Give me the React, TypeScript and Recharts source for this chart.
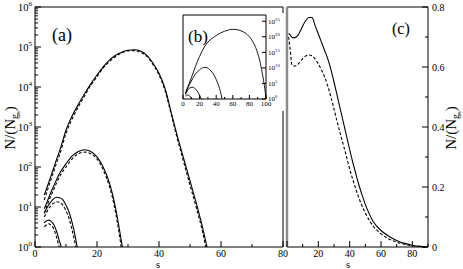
import React from "react";
import { LineChart, Line, XAxis, YAxis } from "recharts";

const FONT = '"Liberation Serif", "Times New Roman", "DejaVu Serif", serif';

// panel (a): s and N/(N_gs), four solid/dashed pairs
const aS1 = [3, 4, 5, 6, 7, 8, 10, 12, 14, 16, 18, 20, 22, 24, 26, 28, 30, 32, 34, 36, 38, 40, 42, 44, 46, 48, 50, 52, 54, 55.5];
const aSolid1 = [20, 33, 55, 93, 160, 260, 830, 1900, 3700, 6800, 12000, 20000, 32000, 47000, 62000, 74000, 83000, 85000, 79000, 63000, 40000, 22000, 8900, 2200, 560, 160, 45, 12.6, 3.2, 1];
const aS1d = [3, 4, 5, 6, 7, 8, 10, 12, 14, 16, 18, 20, 22, 24, 26, 28, 30, 32, 34, 36, 38, 40, 42, 44, 46, 48, 50, 52, 54, 55.1];
const aDashed1 = [15, 26, 45, 76, 130, 210, 690, 1600, 3200, 6000, 11000, 18000, 30000, 43000, 58000, 71000, 80000, 81000, 74000, 59000, 37000, 20000, 7900, 2000, 480, 130, 35, 10, 2.5, 1];

const aS2 = [3, 4, 5, 6, 8, 10, 12, 14, 16, 18, 20, 22, 24, 25, 26, 27, 28.2];
const aSolid2 = [9, 14, 22, 33, 71, 120, 190, 245, 270, 245, 180, 100, 40, 21, 9.3, 3.5, 1];
const aS2d = [3, 4, 5, 6, 8, 10, 12, 14, 16, 18, 20, 22, 24, 25, 26, 27, 27.8];
const aDashed2 = [7, 11.5, 18, 27, 59, 100, 160, 215, 235, 215, 160, 85, 33, 17, 7.2, 2.6, 1];

const aS3 = [3, 4, 5, 6, 7, 8, 9, 10, 11, 12, 13, 13.6];
const aSolid3 = [7, 10, 13, 16, 17.5, 17, 15, 11, 7.4, 4, 1.8, 1];
const aS3d = [3, 4, 5, 6, 7, 8, 9, 10, 11, 12, 13.2];
const aDashed3 = [5.6, 8, 10.5, 12.5, 13.5, 13, 11, 8.1, 5.1, 2.6, 1];

const aS4 = [3, 3.5, 4, 4.5, 5, 6, 7, 8, 8.5];
const aSolid4 = [4, 4.4, 4.6, 4.7, 4.5, 3.7, 2.4, 1.3, 1];
const aS4d = [3, 4, 4.5, 5, 6, 7, 7.8];
const aDashed4 = [3.2, 3.7, 3.8, 3.6, 2.9, 1.7, 1];

// inset (b)
const bS1 = [3, 6, 10, 15, 20, 25, 30, 35, 40, 45, 50, 55, 60, 65, 70, 75, 80, 85, 90, 94, 97, 99, 100];
const b1 = [1e2, 1e4, 6e6, 3e10, 5e13, 2.5e16, 2e18, 3e19, 2.5e20, 1.6e21, 6e21, 1.6e22, 2.5e22, 2e22, 8e21, 1.6e21, 1e20, 1e18, 5e14, 3e10, 1e6, 300, 1];
const bS2 = [3, 6, 10, 15, 20, 25, 28, 32, 36, 40, 43, 45, 47];
const b2 = [60, 4000, 6e5, 1e8, 2.5e9, 1.3e10, 1.3e10, 3e9, 2e8, 2e6, 1.6e4, 300, 1];
const bS3 = [3, 5, 8, 11, 14, 17, 20, 22];
const b3 = [30, 400, 3000, 6000, 3000, 400, 16, 1];
const bS4 = [3, 5, 7, 9, 11];
const b4 = [10, 20, 16, 5, 1];

// panel (c)
const cS = [1, 2, 4, 6, 8, 10, 12, 14, 16, 18, 20, 22, 24, 26, 28, 30, 32, 34, 36, 38, 40, 42, 44, 46, 48, 50, 55, 60, 65, 70, 75, 80, 85, 90];
const cSolid = [0.712, 0.706, 0.697, 0.7, 0.715, 0.737, 0.755, 0.765, 0.765, 0.737, 0.71, 0.683, 0.655, 0.628, 0.592, 0.55, 0.505, 0.46, 0.415, 0.37, 0.325, 0.282, 0.243, 0.205, 0.172, 0.142, 0.085, 0.055, 0.036, 0.022, 0.012, 0.006, 0.002, 0];
const cSd = [1, 2, 3, 4, 6, 8, 10, 12, 14, 16, 18, 20, 22, 24, 26, 28, 30, 32, 34, 36, 38, 40, 42, 44, 46, 48, 50, 55, 60, 65, 70, 75, 80, 85, 90];
const cDashed = [0.7, 0.66, 0.61, 0.603, 0.605, 0.615, 0.628, 0.637, 0.64, 0.637, 0.626, 0.61, 0.59, 0.567, 0.537, 0.5, 0.46, 0.418, 0.378, 0.34, 0.3, 0.26, 0.225, 0.192, 0.162, 0.136, 0.113, 0.07, 0.044, 0.027, 0.016, 0.009, 0.004, 0.0015, 0];

// ticks
const aXTicks = [0, 10, 20, 30, 40, 50, 60, 70, 80];
const aYMajor = [1, 10, 100, 1000, 10000, 100000, 1000000];
const aYTicks = aYMajor.flatMap((m, i) =>
  i === aYMajor.length - 1 ? [m] : [1, 2, 3, 4, 5, 6, 7, 8, 9].map((k) => k * m)
);
const bXTicks = [0, 10, 20, 30, 40, 50, 60, 70, 80, 90, 100];
const bYTicks = [1, 1e5, 1e10, 1e15, 1e20, 1e25];
const cXTicks = [0, 10, 20, 30, 40, 50, 60, 70, 80, 90];
const cYTicks = [0, 0.1, 0.2, 0.3, 0.4, 0.5, 0.6, 0.7, 0.8];

type Pt = { s: number; v: number };
const zip = (s: number[], v: number[]): Pt[] => s.map((x, i) => ({ s: x, v: v[i] }));

const isPow10 = (v: number) => Math.abs(Math.log10(v) - Math.round(Math.log10(v))) < 1e-6;
const every20 = (v: number) => Math.round(v) % 20 === 0;
const every02 = (v: number) => Math.round(v * 10) % 2 === 0;

function pow10(fs: number) {
  return (v: number) => (
    <>
      <tspan>10</tspan>
      <tspan dy={-fs * 0.45} fontSize={fs * 0.68}>
        {Math.round(Math.log10(v))}
      </tspan>
    </>
  );
}

type Side = "left" | "right" | "top" | "bottom";
type TickOpt = {
  gap: number;
  major: (v: number) => boolean;
  label?: (v: number) => React.ReactNode;
  fs?: number;
  long?: number;
  short?: number;
  color?: string;
};

function makeTick(side: Side, opt: TickOpt) {
  const { gap, major, label, fs = 10, long = 6, short = 3, color = "#000" } = opt;
  return (p: any) => {
    const v = Number(p.payload.value);
    const big = major(v);
    const len = big ? long : short;
    const x = Number(p.x);
    const y = Number(p.y);
    const content = big && label ? label(v) : null;
    const ts = { fontFamily: FONT, fontSize: fs };
    let ln: React.ReactNode = null;
    let tx: React.ReactNode = null;
    if (side === "left") {
      const ax = x + gap;
      ln = <line x1={ax} x2={ax + len} y1={y} y2={y} />;
      if (content !== null) tx = <text x={x} y={y} dy="0.35em" textAnchor="end" style={ts}>{content}</text>;
    } else if (side === "right") {
      const ax = x - gap;
      ln = <line x1={ax} x2={ax - len} y1={y} y2={y} />;
      if (content !== null) tx = <text x={x} y={y} dy="0.35em" textAnchor="start" style={ts}>{content}</text>;
    } else if (side === "bottom") {
      const ay = y - gap;
      ln = <line x1={x} x2={x} y1={ay} y2={ay - len} />;
      if (content !== null) tx = <text x={x} y={y} dy="0.72em" textAnchor="middle" style={ts}>{content}</text>;
    } else {
      const ay = y + gap;
      ln = <line x1={x} x2={x} y1={ay} y2={ay + len} />;
    }
    return (
      <g>
        <g stroke={color} strokeWidth={1}>{ln}</g>
        <g fill="#000" stroke="none">{tx}</g>
      </g>
    );
  };
}

const numLabel = (v: number) => (v === 0 ? "0" : String(v));

const solid = { stroke: "#000", strokeWidth: 1.1, dot: false as const, isAnimationActive: false, type: "monotone" as const };
const dashed = { ...solid, strokeDasharray: "3 2" };
const axLine = { stroke: "#000", strokeWidth: 1 };

function PanelA() {
  return (
    <LineChart width={290} height={269} margin={{ top: 6, right: 6, bottom: 0, left: 0 }}>
      <XAxis dataKey="s" type="number" domain={[0, 80]} ticks={aXTicks} interval={0} height={22}
        tickSize={0} tickMargin={3} tickLine={false} axisLine={axLine}
        tick={makeTick("bottom", { gap: 3, major: every20, label: numLabel })} allowDataOverflow />
      <XAxis xAxisId="t" orientation="top" type="number" domain={[0, 80]} ticks={aXTicks} interval={0} height={1}
        tickSize={0} tickMargin={0} tickLine={false} axisLine={axLine}
        tick={makeTick("top", { gap: 0, major: every20 })} />
      <YAxis type="number" scale="log" domain={[1, 1000000]} ticks={aYTicks} interval={0} width={35}
        tickSize={0} tickMargin={3} tickLine={false} axisLine={axLine}
        tick={makeTick("left", { gap: 3, major: isPow10, label: pow10(10.5), fs: 10.5 })} allowDataOverflow />
      <YAxis yAxisId="r" orientation="right" type="number" scale="log" domain={[1, 1000000]} ticks={aYTicks} interval={0} width={1}
        tickSize={0} tickMargin={0} tickLine={false} axisLine={axLine}
        tick={makeTick("right", { gap: 0, major: isPow10 })} />
      <Line data={zip(aS1, aSolid1)} dataKey="v" {...solid} />
      <Line data={zip(aS1d, aDashed1)} dataKey="v" {...dashed} />
      <Line data={zip(aS2, aSolid2)} dataKey="v" {...solid} />
      <Line data={zip(aS2d, aDashed2)} dataKey="v" {...dashed} />
      <Line data={zip(aS3, aSolid3)} dataKey="v" {...solid} />
      <Line data={zip(aS3d, aDashed3)} dataKey="v" {...dashed} />
      <Line data={zip(aS4, aSolid4)} dataKey="v" {...solid} />
      <Line data={zip(aS4d, aDashed4)} dataKey="v" {...dashed} />
    </LineChart>
  );
}

function InsetB() {
  const thin = { ...solid, strokeWidth: 0.9 };
  return (
    <LineChart width={110} height={98} margin={{ top: 1, right: 0, bottom: 0, left: 7 }}>
      <XAxis dataKey="s" type="number" domain={[0, 100]} ticks={bXTicks} interval={0} height={12}
        tickSize={0} tickMargin={2} tickLine={false} axisLine={axLine}
        tick={makeTick("bottom", { gap: 2, major: every20, label: numLabel, fs: 7, long: 4, short: 2 })} />
      <XAxis xAxisId="t" orientation="top" type="number" domain={[0, 100]} ticks={bXTicks} interval={0} height={1}
        tickSize={0} tickMargin={0} tickLine={false} axisLine={axLine}
        tick={makeTick("top", { gap: 0, major: every20, long: 4, short: 2 })} />
      <YAxis yAxisId="l" type="number" scale="log" domain={[1, 1e27]} ticks={bYTicks} interval={0} width={1}
        tickSize={0} tickMargin={0} tickLine={false} axisLine={axLine}
        tick={makeTick("left", { gap: 0, major: () => true, long: 4 })} />
      <YAxis orientation="right" type="number" scale="log" domain={[1, 1e27]} ticks={bYTicks} interval={0} width={19}
        tickSize={0} tickMargin={2} tickLine={false} axisLine={axLine}
        tick={makeTick("right", { gap: 2, major: () => true, label: pow10(7), fs: 7, long: 4 })} allowDataOverflow />
      <Line data={zip(bS1, b1)} dataKey="v" {...thin} />
      <Line data={zip(bS2, b2)} dataKey="v" {...thin} />
      <Line data={zip(bS3, b3)} dataKey="v" {...thin} />
      <Line data={zip(bS4, b4)} dataKey="v" {...thin} />
    </LineChart>
  );
}

function PanelC() {
  return (
    <LineChart width={183} height={269} margin={{ top: 6, right: 0, bottom: 0, left: 6 }}>
      <XAxis dataKey="s" type="number" domain={[0, 90]} ticks={cXTicks} interval={0} height={22}
        tickSize={0} tickMargin={3} tickLine={false} axisLine={axLine}
        tick={makeTick("bottom", { gap: 3, major: every20, label: (v) => (v === 0 ? null : String(v)) })} />
      <XAxis xAxisId="t" orientation="top" type="number" domain={[0, 90]} ticks={cXTicks} interval={0} height={1}
        tickSize={0} tickMargin={0} tickLine={false} axisLine={axLine}
        tick={makeTick("top", { gap: 0, major: every20 })} />
      <YAxis yAxisId="l" type="number" domain={[0, 0.8]} ticks={cYTicks} interval={0} width={1}
        tickSize={0} tickMargin={0} tickLine={false} axisLine={{ stroke: "#8c8c8c", strokeWidth: 2.5 }}
        tick={makeTick("left", { gap: 0, major: every02, color: "#666" })} />
      <YAxis orientation="right" type="number" domain={[0, 0.8]} ticks={cYTicks} interval={0} width={35}
        tickSize={0} tickMargin={4} tickLine={false} axisLine={axLine}
        tick={makeTick("right", { gap: 4, major: every02, label: numLabel })} />
      <Line data={zip(cS, cSolid)} dataKey="v" {...solid} />
      <Line data={zip(cSd, cDashed)} dataKey="v" {...dashed} />
    </LineChart>
  );
}

function YLabel({ x, y }: { x: number; y: number }) {
  return (
    <text transform={`translate(${x},${y}) rotate(-90)`} textAnchor="middle" fill="#000" style={{ fontFamily: FONT, fontSize: 15 }}>
      N/(N
      <tspan dy={3} fontSize={10}>g</tspan>
      <tspan dy={2} fontSize={7}>s</tspan>
      <tspan dy={-5}>)</tspan>
    </text>
  );
}

export default function App() {
  const t = (fs: number) => ({ fontFamily: FONT, fontSize: fs });
  return (
    <div style={{ position: "absolute", left: 0, top: 0, width: 463, height: 269, background: "#fff", overflow: "hidden", fontFamily: FONT }}>
      <div style={{ position: "absolute", left: 0, top: 0 }}>
        <PanelA />
      </div>
      <div style={{ position: "absolute", left: 280, top: 0 }}>
        <PanelC />
      </div>
      <div style={{ position: "absolute", left: 175, top: 13, width: 110, height: 98, background: "#fff" }}>
        <InsetB />
      </div>
      <svg width={463} height={269} style={{ position: "absolute", left: 0, top: 0, pointerEvents: "none" }}>
        <g fill="#000">
          <text x={52} y={41} style={t(18)}>(a)</text>
          <text x={188} y={42} style={t(17)}>(b)</text>
          <text x={392} y={34} style={t(16)}>(c)</text>
          <text x={158} y={268} textAnchor="middle" style={t(10.5)}>s</text>
          <text x={348} y={268} textAnchor="middle" style={t(10.5)}>s</text>
        </g>
        <YLabel x={15} y={128} />
        <YLabel x={456} y={128} />
      </svg>
    </div>
  );
}
